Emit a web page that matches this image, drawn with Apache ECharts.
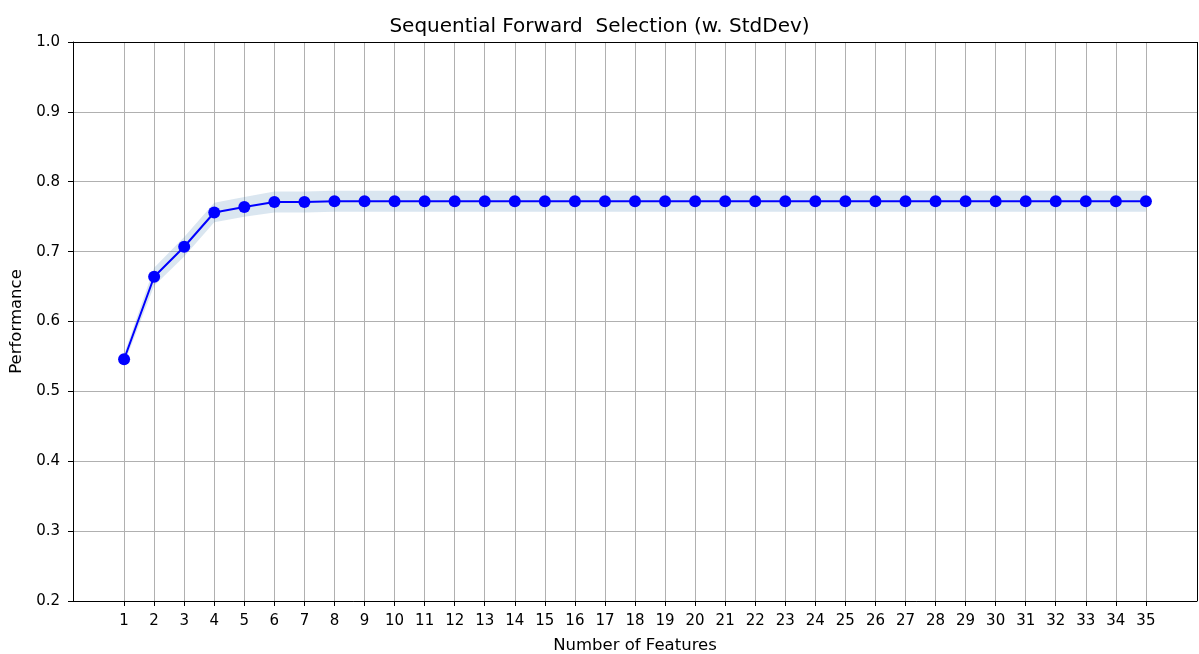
<!DOCTYPE html>
<html>
<head>
<meta charset="utf-8">
<script src="https://cdn.jsdelivr.net/npm/echarts@6/dist/echarts.min.js"></script>
<style>
  html, body { margin: 0; padding: 0; background: #fff; }
  #chart { width: 1199px; height: 654px; }
</style>
</head>
<body>
<div id="chart"></div>
<script>
const features = [1, 2, 3, 4, 5, 6, 7, 8, 9, 10, 11, 12, 13, 14, 15, 16, 17, 18, 19, 20,
    21, 22, 23, 24, 25, 26, 27, 28, 29, 30, 31, 32, 33, 34, 35];
const performance = [0.546, 0.664, 0.707, 0.756, 0.764, 0.771, 0.771, 0.772, 0.772, 0.772,
    0.772, 0.772, 0.772, 0.772, 0.772, 0.772, 0.772, 0.772, 0.772, 0.772,
    0.772, 0.772, 0.772, 0.772, 0.772, 0.772, 0.772, 0.772, 0.772, 0.772,
    0.772, 0.772, 0.772, 0.772, 0.772];
const stdDev = [0.007, 0.013, 0.014, 0.014, 0.014, 0.015, 0.015, 0.015, 0.015, 0.015,
    0.015, 0.015, 0.015, 0.015, 0.015, 0.015, 0.015, 0.015, 0.015, 0.015,
    0.015, 0.015, 0.015, 0.015, 0.015, 0.015, 0.015, 0.015, 0.015, 0.015,
    0.015, 0.015, 0.015, 0.015, 0.015];
const yTicks = [0.2, 0.3, 0.4, 0.5, 0.6, 0.7, 0.8, 0.9, 1.0];

const chart = echarts.init(document.getElementById('chart'), null, { renderer: 'canvas' });

const font = 'DejaVu Sans';
const line = features.map((f, i) => [f, performance[i]]);

// std-dev band drawn as one polygon through the axis scales
function renderBand(params, api) {
    if (params.dataIndex !== 0) return null;
    const upper = features.map((f, i) => api.coord([f, performance[i] + stdDev[i]]));
    const lower = features.map((f, i) => api.coord([f, performance[i] - stdDev[i]])).reverse();
    return {
        type: 'polygon',
        shape: { points: upper.concat(lower) },
        style: { fill: 'rgba(70,130,180,0.2)', stroke: 'none' },
        silent: true
    };
}

const option = {
    animation: false,
    backgroundColor: '#ffffff',
    title: {
        text: 'Sequential Forward  Selection (w. StdDev)',
        left: 'center',
        top: 12,
        textStyle: { fontFamily: font, fontSize: 20, fontWeight: 'normal', color: '#000' }
    },
    grid: { left: 73, right: 2, top: 42, bottom: 53, outerBoundsMode: 'none', containLabel: false },
    xAxis: {
        type: 'value',
        min: -0.7,
        max: 36.7,
        name: 'Number of Features',
        nameLocation: 'middle',
        nameGap: 36,
        nameTextStyle: { fontFamily: font, fontSize: 16.5, color: '#000' },
        axisLine: { onZero: false, lineStyle: { color: '#000', width: 1 } },
        axisTick: { customValues: features, length: 5, lineStyle: { color: '#000' } },
        axisLabel: { customValues: features, fontFamily: font, fontSize: 15, color: '#000', margin: 13 },
        splitLine: { show: true, lineStyle: { color: '#b0b0b0', width: 1 } }
    },
    yAxis: {
        type: 'value',
        min: 0.2,
        max: 1.0,
        name: 'Performance',
        nameLocation: 'middle',
        nameGap: 46,
        nameTextStyle: { fontFamily: font, fontSize: 16.5, color: '#000' },
        axisLine: { show: true, onZero: false, lineStyle: { color: '#000', width: 1 } },
        axisTick: { show: true, customValues: yTicks, length: 5, lineStyle: { color: '#000' } },
        axisLabel: {
            customValues: yTicks,
            fontFamily: font, fontSize: 15, color: '#000', margin: 13,
            formatter: v => v.toFixed(1)
        },
        splitLine: { show: true, lineStyle: { color: '#b0b0b0', width: 1 } }
    },
    series: [
        {
            type: 'custom',
            data: [0],
            renderItem: renderBand,
            silent: true,
            z: 1
        },
        {
            type: 'line',
            data: line,
            symbol: 'circle',
            symbolSize: 12,
            itemStyle: { color: '#0000ff' },
            lineStyle: { color: '#0000ff', width: 2 },
            z: 5
        },
        {
            // top and right frame lines
            type: 'line',
            data: [],
            markLine: {
                silent: true,
                symbol: 'none',
                label: { show: false },
                lineStyle: { color: '#000', width: 1, type: 'solid' },
                data: [{ yAxis: 1.0 }, { xAxis: 36.7 }]
            }
        }
    ]
};

option && chart.setOption(option);
</script>
</body>
</html>
